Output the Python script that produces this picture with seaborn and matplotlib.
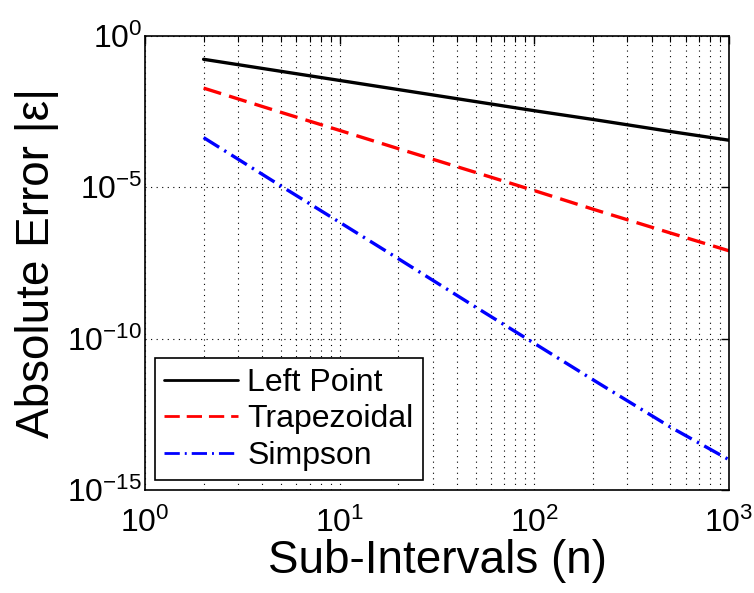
import numpy as np
import pandas as pd
import matplotlib
matplotlib.use("Agg")
import matplotlib.pyplot as plt
import matplotlib.ticker as mticker
import seaborn as sns

# ---- data ----
n_values = [2, 5, 10, 20, 50, 100, 200, 500, 1000]
left_point = [0.17, 0.068, 0.034, 0.017, 6.8e-3, 3.4e-3, 1.75e-3, 7.0e-4, 3.6e-4]
trapezoidal = [1.9e-2, 3.0e-3, 7.6e-4, 1.9e-4, 3.1e-5, 7.8e-6, 1.9e-6, 3.1e-7, 8.0e-8]
simpson = [4.4e-4, 1.1e-5, 7.0e-7, 4.4e-8, 1.1e-9, 7.0e-11, 4.4e-12, 1.2e-13, 1.0e-14]
series_names = ["Left Point", "Trapezoidal", "Simpson"]
x_label = "Sub-Intervals (n)"
y_label = "Absolute Error |\u03b5|"

df = pd.DataFrame({
    "n": n_values * 3,
    "err": left_point + trapezoidal + simpson,
    "method": [series_names[0]] * len(n_values)
              + [series_names[1]] * len(n_values)
              + [series_names[2]] * len(n_values),
})

sns.set_style("white")
plt.rcParams["font.family"] = ["Liberation Sans", "DejaVu Sans"]
plt.rcParams["mathtext.fontset"] = "custom"
plt.rcParams["mathtext.rm"] = "Liberation Sans"
plt.rcParams["mathtext.it"] = "Liberation Sans"
plt.rcParams["mathtext.default"] = "regular"
plt.rcParams["axes.unicode_minus"] = False
plt.rcParams["text.color"] = "black"
plt.rcParams["axes.labelcolor"] = "black"
plt.rcParams["xtick.color"] = "black"
plt.rcParams["ytick.color"] = "black"

fig = plt.figure(figsize=(7.54, 5.93), dpi=100)
ax = fig.add_axes([145 / 754, 1 - 490 / 593, (729 - 145) / 754, (490 - 36) / 593])

palette = {series_names[0]: "black", series_names[1]: "#ff0000", series_names[2]: "#0000ff"}
dashes = {series_names[0]: "", series_names[1]: (5.5, 2.5), series_names[2]: (5.5, 1.8, 0.7, 1.8)}

sns.lineplot(data=df, x="n", y="err", hue="method", style="method",
             palette=palette, dashes=dashes, linewidth=2.4, ax=ax,
             hue_order=series_names, style_order=series_names)

ax.set_xscale("log")
ax.set_yscale("log")
ax.set_xlim(1, 1000)
ax.set_ylim(1e-15, 1)

ax.xaxis.set_major_locator(mticker.LogLocator(base=10, numticks=10))
ax.xaxis.set_minor_locator(mticker.LogLocator(base=10, subs=np.arange(2, 10), numticks=20))
ax.yaxis.set_major_locator(mticker.FixedLocator([1e-15, 1e-10, 1e-5, 1e0]))
ax.yaxis.set_minor_locator(mticker.NullLocator())
ax.xaxis.set_minor_formatter(mticker.NullFormatter())

ax.grid(True, which="major", axis="both", linestyle=(0, (1, 4)), color="black", linewidth=0.8)
ax.grid(True, which="minor", axis="x", linestyle=(0, (1, 4)), color="black", linewidth=0.8)

ax.tick_params(which="both", direction="in", top=True, right=True, colors="black",
               labelsize=23, labelcolor="black")
ax.tick_params(which="major", length=6, width=1)
ax.tick_params(which="minor", length=4, width=0.8)
ax.tick_params(axis="x", which="major", pad=13)
ax.tick_params(axis="y", which="major", pad=2)

for sp in ax.spines.values():
    sp.set_color("black")
    sp.set_linewidth(1.2)
    sp.set_visible(True)

ax.set_xlabel(x_label, fontsize=33, labelpad=0, color="black")
ax.set_ylabel(y_label, fontsize=33, labelpad=6, color="black")

leg = ax.legend(loc="lower left", fontsize=23, frameon=True, fancybox=False,
                edgecolor="black", framealpha=1, handlelength=2.3,
                borderaxespad=0.3, labelspacing=0.2, handletextpad=0.3,
                borderpad=0.3)
leg.get_frame().set_linewidth(1.2)
for line in leg.get_lines():
    line.set_linewidth(2.0)
for t in leg.get_texts():
    t.set_color("black")

fig.savefig("out.png", dpi=100, facecolor="white")
